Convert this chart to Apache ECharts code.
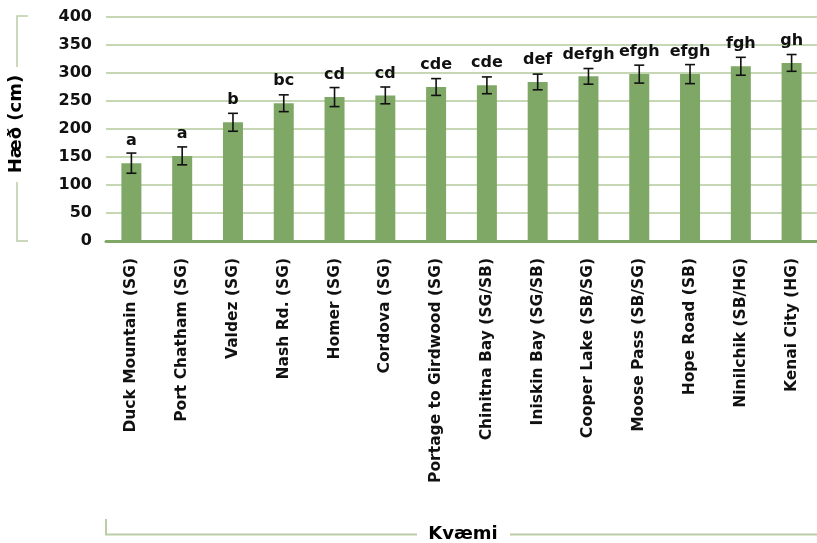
<!DOCTYPE html>
<html>
<head>
<meta charset="utf-8">
<script src="https://cdn.jsdelivr.net/npm/echarts@6/dist/echarts.min.js"></script>
<style>
  html, body { margin: 0; padding: 0; background: #fff; }
  #chart { width: 817px; height: 543px; }
</style>
</head>
<body>
<div id="chart"></div>
<script>
// Provenances (seed sources) and mean tree height with standard error
const categories = [
  'Duck Mountain (SG)', 'Port Chatham (SG)', 'Valdez (SG)', 'Nash Rd. (SG)',
  'Homer (SG)', 'Cordova (SG)', 'Portage to Girdwood (SG)', 'Chinitna Bay (SG/SB)',
  'Iniskin Bay (SG/SB)', 'Cooper Lake (SB/SG)', 'Moose Pass (SB/SG)', 'Hope Road (SB)',
  'Ninilchik (SB/HG)', 'Kenai City (HG)'
];
const heights = [139, 152, 212, 246, 257, 260, 275, 278, 284, 294, 298, 298, 312, 318];
const errors  = [18, 16, 16, 15, 17, 15, 15, 15, 14, 14, 16, 17, 16, 15];
const groups  = ['a', 'a', 'b', 'bc', 'cd', 'cd', 'cde', 'cde', 'def', 'defgh', 'efgh', 'efgh', 'fgh', 'gh'];
const yTicks  = { min: 0, max: 400, interval: 50 };

const FONT = 'DejaVu Sans';
const barColor = '#7fa866';
const gridColor = '#c6d7b6';
const bracketColor = '#b9cda6';

const chart = echarts.init(document.getElementById('chart'), null, { renderer: 'canvas' });

const errorData = heights.map((h, i) => [i, h - errors[i], h + errors[i]]);

chart.setOption({
  animation: false,
  grid: { left: 106, top: 17, width: 716, height: 224, containLabel: false },
  xAxis: {
    type: 'category',
    data: categories,
    axisLine: { lineStyle: { color: barColor, width: 3 } },
    axisTick: { show: false },
    axisLabel: {
      rotate: 90,
      interval: 0,
      margin: 17,
      color: '#111',
      fontFamily: FONT,
      fontWeight: 'bold',
      fontSize: 15.5
    }
  },
  yAxis: {
    type: 'value',
    min: yTicks.min,
    max: yTicks.max,
    interval: yTicks.interval,
    axisLine: { show: false },
    axisTick: { show: false },
    splitLine: { lineStyle: { color: gridColor, width: 2 } },
    axisLabel: {
      margin: 14,
      color: '#111',
      fontFamily: FONT,
      fontWeight: 'bold',
      fontSize: 16
    }
  },
  series: [
    {
      type: 'bar',
      data: heights,
      barWidth: 20,
      itemStyle: { color: barColor },
      label: {
        show: true,
        position: 'top',
        distance: 14,
        color: '#111',
        fontFamily: FONT,
        fontWeight: 'bold',
        fontSize: 16,
        formatter: p => groups[p.dataIndex]
      },
      z: 2
    },
    {
      type: 'custom',
      data: errorData,
      z: 3,
      renderItem: (params, api) => {
        const x = api.value(0);
        const lo = api.coord([x, api.value(1)]);
        const hi = api.coord([x, api.value(2)]);
        const half = 5;
        const style = { stroke: '#111', lineWidth: 1.6 };
        return {
          type: 'group',
          children: [
            { type: 'line', shape: { x1: hi[0], y1: hi[1], x2: lo[0], y2: lo[1] }, style },
            { type: 'line', shape: { x1: hi[0] - half, y1: hi[1], x2: hi[0] + half, y2: hi[1] }, style },
            { type: 'line', shape: { x1: lo[0] - half, y1: lo[1], x2: lo[0] + half, y2: lo[1] }, style }
          ]
        };
      }
    }
  ],
  graphic: [
    // vertical axis title with its bracket
    { type: 'polyline', shape: { points: [[28, 16], [17, 16], [17, 67]] }, style: { stroke: bracketColor, lineWidth: 1.5, fill: null } },
    { type: 'polyline', shape: { points: [[17, 182], [17, 241], [28, 241]] }, style: { stroke: bracketColor, lineWidth: 1.5, fill: null } },
    {
      type: 'text', x: 16, y: 124, rotation: Math.PI / 2,
      style: { text: 'Hæð (cm)', fill: '#000', font: 'bold 18px "DejaVu Sans"', align: 'center', verticalAlign: 'middle' }
    },
    // horizontal axis title with its bracket
    { type: 'polyline', shape: { points: [[106, 519], [106, 534.5], [417, 534.5]] }, style: { stroke: bracketColor, lineWidth: 2, fill: null } },
    { type: 'line', shape: { x1: 510, y1: 534.5, x2: 817, y2: 534.5 }, style: { stroke: bracketColor, lineWidth: 2 } },
    {
      type: 'text', x: 463, y: 534,
      style: { text: 'Kvæmi', fill: '#000', font: 'bold 18px "DejaVu Sans"', align: 'center', verticalAlign: 'middle' }
    }
  ]
});
</script>
</body>
</html>
